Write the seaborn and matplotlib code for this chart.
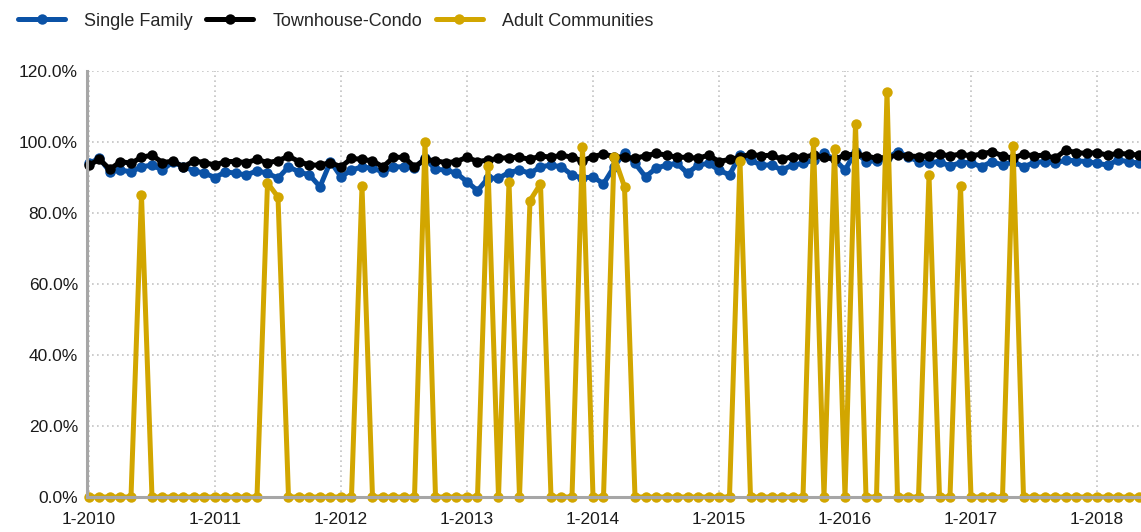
import matplotlib
matplotlib.use('Agg')
import numpy as np
import pandas as pd
import matplotlib.pyplot as plt
from matplotlib.lines import Line2D
import seaborn as sns

# monthly categories 1-2010 .. 5-2018
months = [f'{m}-{y}' for y in range(2010, 2019) for m in range(1, 13)][:101]
tick_labels = ['1-2010', '1-2011', '1-2012', '1-2013', '1-2014',
               '1-2015', '1-2016', '1-2017', '1-2018']

single_family = [
    94.0, 95.4, 91.6, 92.1, 91.6, 93.0, 93.5, 92.1, 94.5, 93.0, 91.9, 91.2,
    90.0, 91.6, 91.2, 90.7, 91.9, 91.2, 89.8, 93.0, 91.6, 90.7, 87.4, 94.5,
    90.2, 92.1, 93.0, 92.6, 91.6, 93.0, 93.0, 92.6, 95.4, 92.3, 92.1, 91.2,
    88.8, 86.3, 89.8, 89.8, 91.4, 92.1, 91.2, 93.0, 93.5, 93.0, 90.7, 89.8,
    90.2, 88.2, 93.0, 97.0, 94.0, 90.2, 92.6, 93.5, 94.0, 91.2, 93.5, 94.0,
    92.1, 90.7, 96.3, 94.9, 93.5, 93.5, 92.1, 93.5, 94.0, 94.9, 96.8, 95.1,
    92.1, 97.3, 94.5, 94.7, 95.4, 97.3, 95.9, 94.5, 94.2, 94.5, 93.2, 94.2,
    94.2, 93.0, 94.5, 93.5, 94.5, 93.0, 94.2, 94.5, 94.0, 94.9, 94.7, 94.5,
    94.0, 93.5, 94.9, 94.5, 94.0,
]
townhouse_condo = [
    93.5, 95.1, 92.3, 94.5, 94.0, 95.7, 96.3, 94.2, 94.6, 93.0, 94.7, 94.2,
    93.5, 94.5, 94.5, 94.2, 95.1, 94.2, 94.7, 96.0, 94.5, 93.5, 93.5, 94.2,
    93.0, 95.4, 95.1, 94.7, 93.0, 95.7, 95.7, 93.0, 95.1, 94.7, 94.2, 94.5,
    95.7, 94.5, 94.9, 95.4, 95.6, 95.7, 95.1, 96.1, 95.7, 96.3, 95.7, 94.7,
    95.9, 96.6, 95.9, 95.7, 95.4, 96.1, 96.8, 96.3, 95.7, 95.7, 95.4, 96.3,
    94.5, 95.1, 95.7, 96.6, 96.1, 96.3, 95.1, 95.9, 95.7, 96.3, 95.7, 95.1,
    96.3, 96.6, 96.1, 95.4, 95.7, 96.3, 96.1, 95.9, 96.1, 96.6, 96.1, 96.6,
    96.1, 96.6, 97.3, 96.1, 95.4, 96.6, 96.1, 96.3, 95.4, 97.7, 97.0, 96.8,
    97.0, 96.3, 96.8, 96.6, 96.3,
]
adult_communities = [
    0, 0, 0, 0, 0, 85.0, 0, 0, 0, 0, 0, 0,
    0, 0, 0, 0, 0, 88.5, 84.5, 0, 0, 0, 0, 0,
    0, 0, 87.6, 0, 0, 0, 0, 0, 100.1, 0, 0, 0,
    0, 0, 93.2, 0, 88.8, 0, 83.5, 88.2, 0, 0, 0, 98.7,
    0, 0, 95.9, 87.4, 0, 0, 0, 0, 0, 0, 0, 0,
    0, 0, 94.7, 0, 0, 0, 0, 0, 0, 100.1, 0, 97.9,
    0, 105.1, 0, 0, 114.1, 0, 0, 0, 90.7, 0, 0, 87.7,
    0, 0, 0, 0, 99.0, 0, 0, 0, 0, 0, 0, 0,
    0, 0, 0, 0, 0,
]

series_names = ['Single Family', 'Townhouse-Condo', 'Adult Communities']
colors = ['#0B52A6', '#000000', '#D2A600']

df = pd.DataFrame({'month': months, 'idx': np.arange(len(months)),
                   'Single Family': single_family,
                   'Townhouse-Condo': townhouse_condo,
                   'Adult Communities': adult_communities})
long = df.melt(id_vars=['month', 'idx'], value_vars=series_names,
               var_name='series', value_name='pct')

sns.set_style('white')
plt.rcParams['font.family'] = ['Liberation Sans', 'DejaVu Sans']

fig = plt.figure(figsize=(11.41, 5.32), dpi=100)
ax = fig.add_axes([87 / 1141, 35 / 532, 1054 / 1141, 426 / 532])

sns.lineplot(data=long, x='idx', y='pct', hue='series', hue_order=series_names,
             palette=colors, marker='o', markersize=7.5, markeredgewidth=0,
             linewidth=3.6, clip_on=False, legend=False, ax=ax)

ax.set_xlim(-0.19, 100.19)
ax.set_ylim(0, 120)
ax.set_yticks(range(0, 121, 20))
ax.set_yticklabels([f'{v:.1f}%' for v in range(0, 121, 20)])
ax.set_xticks(range(0, 97, 12))
ax.set_xticklabels(tick_labels)
ax.set_xlabel('')
ax.set_ylabel('')

ax.grid(True, linestyle=(0, (1, 2)), color='#C4C4C4', linewidth=1.2)
ax.set_axisbelow(True)
for s in ['top', 'right']:
    ax.spines[s].set_visible(False)
for s in ['left', 'bottom']:
    ax.spines[s].set_color('#A6A6A6')
    ax.spines[s].set_linewidth(2.2)
ax.tick_params(axis='y', length=3.5, width=1.5, color='#A6A6A6', pad=3,
               labelsize=12.5, labelcolor='#1a1a1a')
ax.tick_params(axis='x', length=0, pad=11, labelsize=12.5, labelcolor='#1a1a1a')

handles = [Line2D([], [], color=c, marker='o', markersize=7.5, markeredgewidth=0,
                  linewidth=3.6) for c in colors]
fig.legend(handles, series_names, loc='upper left', bbox_to_anchor=(0.005, 1.0),
           ncol=3, frameon=False, fontsize=13, handlelength=2.6,
           handletextpad=1.05, columnspacing=0.75, borderaxespad=0.3)

fig.savefig('out.png', dpi=100)
